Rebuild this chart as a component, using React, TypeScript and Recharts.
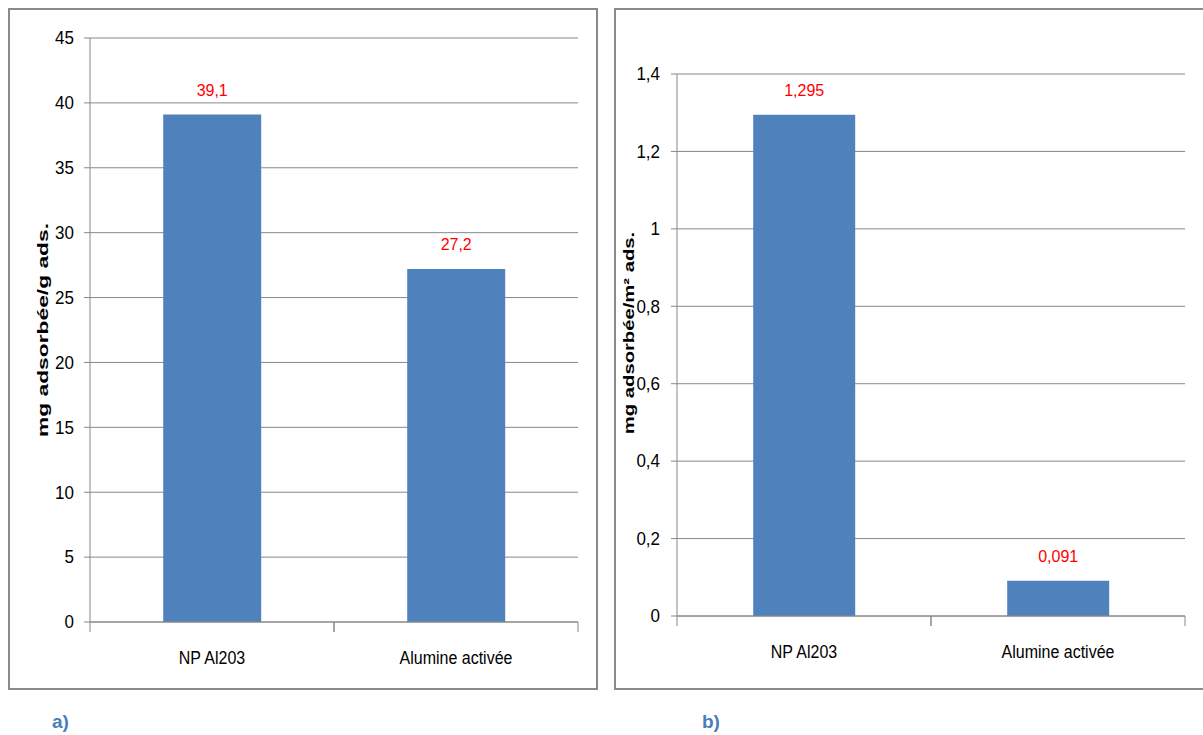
import React from 'react';
import { BarChart, Bar, XAxis, YAxis, CartesianGrid, LabelList } from 'recharts';

const categories = ['NP Al203', 'Alumine activée'];
const massPerGram = [39.1, 27.2];
const massPerArea = [1.295, 0.091];
const ticksA = [0, 5, 10, 15, 20, 25, 30, 35, 40, 45];
const ticksB = [0, 0.2, 0.4, 0.6, 0.8, 1, 1.2, 1.4];
const titleA = 'mg adsorbée/g ads.';
const titleB = 'mg adsorbée/m² ads.';
const panelLabels = ['a)', 'b)'];

const dataA = categories.map((c, i) => ({ name: c, value: massPerGram[i] }));
const dataB = categories.map((c, i) => ({ name: c, value: massPerArea[i] }));

const FONT = "'Liberation Sans', Arial, sans-serif";
const GRID = '#888888';
const BAR = '#4F81BD';
const comma = (v: any) => String(v).replace('.', ',');

function makeXTick(half: number) {
  return (props: any) => {
    const { x, y, payload } = props;
    return (
      <g>
        <line x1={x - half} x2={x - half} y1={y} y2={y + 10} stroke={GRID} />
        <line x1={x + half} x2={x + half} y1={y} y2={y + 10} stroke={GRID} />
        <text
          transform={`translate(${x},${y + 36}) scale(1,1.12)`}
          textAnchor="middle"
          dominantBaseline="central"
          fontSize={16}
          fontFamily={FONT}
          fill="#000"
        >
          {payload.value}
        </text>
      </g>
    );
  };
}

const YTick = (props: any) => {
  const { x, y, payload } = props;
  return (
    <text
      transform={`translate(${x},${y}) scale(1,1.1)`}
      textAnchor="end"
      dominantBaseline="central"
      fontSize={17}
      fontFamily={FONT}
      fill="#000"
    >
      {comma(payload.value)}
    </text>
  );
};

const Title = ({ x, y, text, stretch }: { x: number; y: number; text: string; stretch: number }) => (
  <text
    transform={`translate(${x},${y}) rotate(-90) scale(${stretch},1)`}
    textAnchor="middle"
    dominantBaseline="central"
    fontWeight="bold"
    fontSize={15}
    fontFamily={FONT}
    fill="#000"
  >
    {text}
  </text>
);

const panelStyle: React.CSSProperties = {
  position: 'absolute',
  top: 0,
  height: 682,
  border: '2px solid #8a8a8a',
  boxSizing: 'border-box',
};

const tagStyle: React.CSSProperties = {
  position: 'absolute',
  top: 703,
  fontFamily: FONT,
  fontWeight: 'bold',
  fontSize: 19,
  color: '#4A7EBB',
};

export default function App() {
  return (
    <div style={{ position: 'fixed', left: 0, top: 0, width: 1203, height: 735, overflow: 'hidden', background: '#fff' }}>
      <div style={{ position: 'absolute', left: 8, top: 8, width: 1195, height: 727 }}>
        <div style={{ ...panelStyle, left: 0, width: 590 }} />
        <div style={{ ...panelStyle, left: 606, width: 600 }} />

        <div style={{ position: 'absolute', left: 0, top: 0 }}>
          <BarChart width={590} height={682} data={dataA} margin={{ top: 30, right: 20, bottom: 28, left: 22 }} barCategoryGap="30%">
            <CartesianGrid vertical={false} stroke={GRID} />
            <XAxis dataKey="name" height={40} tickSize={0} tickMargin={0} axisLine={{ stroke: GRID }} tickLine={false} tick={makeXTick(122)} interval={0} />
            <YAxis
              width={60}
              domain={[0, 45]}
              ticks={ticksA}
              interval={0}
              tick={<YTick />}
              tickLine={{ stroke: GRID }}
              axisLine={{ stroke: GRID }}
              tickSize={6}
              tickMargin={10}
              label={() => <Title x={35} y={322} text={titleA} stretch={1.52} />}
            />
            <Bar dataKey="value" fill={BAR} isAnimationActive={false}>
              <LabelList dataKey="value" position="top" offset={19} formatter={comma} fill="#FF0000" fontSize={16} fontFamily={FONT} />
            </Bar>
          </BarChart>
        </div>

        <div style={{ position: 'absolute', left: 606, top: 0 }}>
          <BarChart width={600} height={682} data={dataB} margin={{ top: 66, right: 29, bottom: 34, left: 3 }} barCategoryGap="30%">
            <CartesianGrid vertical={false} stroke={GRID} />
            <XAxis dataKey="name" height={40} tickSize={0} tickMargin={0} axisLine={{ stroke: GRID }} tickLine={false} tick={makeXTick(127)} interval={0} />
            <YAxis
              width={60}
              domain={[0, 1.4]}
              ticks={ticksB}
              interval={0}
              tick={<YTick />}
              tickLine={{ stroke: GRID }}
              axisLine={{ stroke: GRID }}
              tickSize={6}
              tickMargin={11}
              label={() => <Title x={15} y={325} text={titleB} stretch={1.35} />}
            />
            <Bar dataKey="value" fill={BAR} isAnimationActive={false}>
              <LabelList dataKey="value" position="top" offset={19} formatter={comma} fill="#FF0000" fontSize={16} fontFamily={FONT} />
            </Bar>
          </BarChart>
        </div>

        <div style={{ ...tagStyle, left: 44 }}>{panelLabels[0]}</div>
        <div style={{ ...tagStyle, left: 694 }}>{panelLabels[1]}</div>
      </div>
    </div>
  );
}
